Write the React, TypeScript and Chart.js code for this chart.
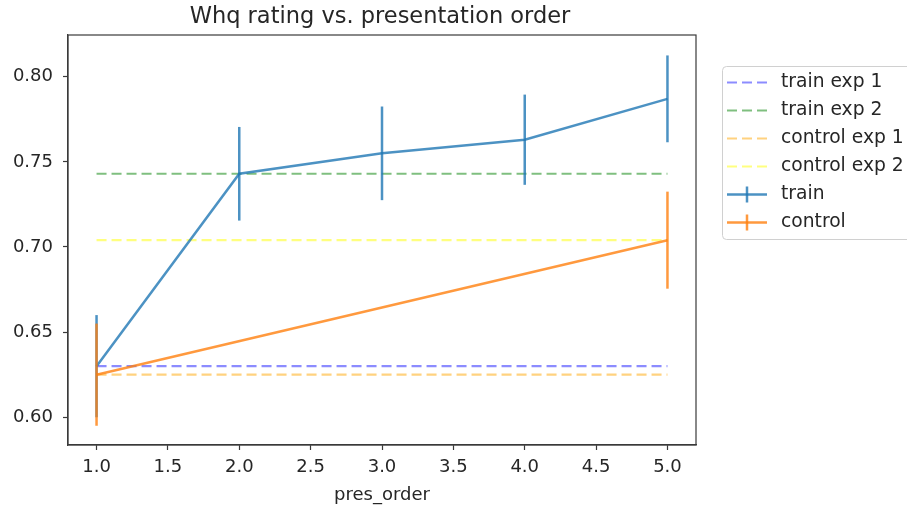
import React, { useEffect, useRef } from "react";
import { Chart, registerables } from "chart.js";

Chart.register(...registerables);

const presOrder = [1, 2, 3, 4, 5];
const trainMean = [0.630, 0.743, 0.755, 0.763, 0.787];
const trainErr = [0.030, 0.0275, 0.0275, 0.0265, 0.0255];
const controlOrder = [1, 5];
const controlMean = [0.625, 0.704];
const controlErr = [0.030, 0.0285];
const refRange = [1, 5];
const trainExp1 = 0.630;
const trainExp2 = 0.743;
const controlExp1 = 0.625;
const controlExp2 = 0.704;
const xTicks = [1.0, 1.5, 2.0, 2.5, 3.0, 3.5, 4.0, 4.5, 5.0];
const yTicks = [0.60, 0.65, 0.70, 0.75, 0.80];
const legendLabels = ["train exp 1", "train exp 2", "control exp 1", "control exp 2", "train", "control"];

const FONT = '"DejaVu Sans", sans-serif';
const TEXT = "#262626";
const AXIS = "#3a3a3a";

const C_TRAIN = "rgba(31,119,180,0.8)";
const C_CONTROL = "rgba(255,127,14,0.8)";
const C_TE1 = "rgba(0,0,255,0.45)";
const C_TE2 = "rgba(0,128,0,0.5)";
const C_CE1 = "rgba(255,165,0,0.5)";
const C_CE2 = "rgba(255,255,0,0.5)";

const hline = (v: number) => refRange.map((x) => ({ x, y: v }));

export default function App() {
  const ref = useRef<HTMLCanvasElement | null>(null);
  useEffect(() => {
    if (!ref.current) return;
    const errPlugin = {
      id: "errbars",
      afterDatasetDraw(chart: any, args: any) {
        const ds = chart.data.datasets[args.index];
        if (!ds.errors) return;
        const ctx = chart.ctx;
        const xs = chart.scales.x;
        const ys = chart.scales.y;
        ctx.save();
        ctx.strokeStyle = ds.borderColor;
        ctx.lineWidth = 2.5;
        ds.data.forEach((p: any, i: number) => {
          const px = xs.getPixelForValue(p.x);
          ctx.beginPath();
          ctx.moveTo(px, ys.getPixelForValue(p.y + ds.errors[i]));
          ctx.lineTo(px, ys.getPixelForValue(p.y - ds.errors[i]));
          ctx.stroke();
        });
        ctx.restore();
      },
    };
    const decoPlugin = {
      id: "deco",
      afterDraw(chart: any) {
        const ctx = chart.ctx;
        const a = chart.chartArea;
        ctx.save();
        // frame
        ctx.strokeStyle = AXIS;
        ctx.lineWidth = 1.2;
        ctx.strokeRect(a.left, a.top, a.right - a.left, a.bottom - a.top);
        // title
        ctx.fillStyle = TEXT;
        ctx.font = `22.5px ${FONT}`;
        ctx.textAlign = "center";
        ctx.textBaseline = "middle";
        ctx.fillText("Whq rating vs. presentation order", 380, 17);
        // legend
        const lx = 722, ly = 66, lw = 200, lh = 173;
        ctx.beginPath();
        ctx.roundRect(lx + 0.5, ly + 0.5, lw, lh, 4);
        ctx.fillStyle = "rgba(255,255,255,0.8)";
        ctx.fill();
        ctx.strokeStyle = "#d0d0d0";
        ctx.lineWidth = 1;
        ctx.stroke();
        const dss = chart.data.datasets;
        ctx.font = `18.7px ${FONT}`;
        ctx.textAlign = "left";
        legendLabels.forEach((lab, i) => {
          const ds = dss.find((d: any) => d.label === lab);
          const y = 82.5 + i * 28;
          ctx.strokeStyle = ds.borderColor;
          ctx.lineWidth = ds.borderWidth;
          ctx.setLineDash(ds.borderDash || []);
          ctx.beginPath();
          ctx.moveTo(727, y);
          ctx.lineTo(767, y);
          ctx.stroke();
          ctx.setLineDash([]);
          if (ds.errors) {
            ctx.beginPath();
            ctx.moveTo(747, y - 8);
            ctx.lineTo(747, y + 8);
            ctx.stroke();
          }
          ctx.fillStyle = TEXT;
          ctx.fillText(lab, 781, y);
        });
        ctx.restore();
      },
    };
    const chart = new Chart(ref.current, {
      type: "line",
      data: {
        datasets: [
          { label: "train exp 1", data: hline(trainExp1), borderColor: C_TE1, borderWidth: 2.2, borderDash: [10, 5], order: 10 },
          { label: "train exp 2", data: hline(trainExp2), borderColor: C_TE2, borderWidth: 2.2, borderDash: [10, 5], order: 10 },
          { label: "control exp 1", data: hline(controlExp1), borderColor: C_CE1, borderWidth: 2.2, borderDash: [10, 5], order: 10 },
          { label: "control exp 2", data: hline(controlExp2), borderColor: C_CE2, borderWidth: 2.2, borderDash: [10, 5], order: 10 },
          { label: "train", data: presOrder.map((x, i) => ({ x, y: trainMean[i] })), errors: trainErr, borderColor: C_TRAIN, borderWidth: 2.5, order: 2 } as any,
          { label: "control", data: controlOrder.map((x, i) => ({ x, y: controlMean[i] })), errors: controlErr, borderColor: C_CONTROL, borderWidth: 2.5, order: 1 } as any,
        ],
      },
      options: {
        responsive: false,
        animation: false,
        events: [],
        layout: { padding: { top: 35, right: 211, left: 0, bottom: 0 } },
        elements: { point: { radius: 0 }, line: { tension: 0, fill: false } },
        plugins: { legend: { display: false }, tooltip: { enabled: false }, title: { display: false } },
        scales: {
          x: {
            type: "linear",
            min: 0.8,
            max: 5.2,
            afterBuildTicks: (s: any) => { s.ticks = xTicks.map((v) => ({ value: v })); },
            afterFit: (s: any) => { s.height = 65; },
            grid: { display: true, drawOnChartArea: false, drawTicks: true, tickLength: 5, tickColor: AXIS, tickWidth: 1.2 },
            border: { display: true, color: AXIS, width: 1.2 },
            ticks: { color: TEXT, font: { family: FONT, size: 18 }, padding: 7, maxRotation: 0, autoSkip: false, callback: (v: any) => Number(v).toFixed(1) },
            title: { display: true, text: "pres_order", color: TEXT, font: { family: FONT, size: 18 }, padding: { top: 0, bottom: 4 } },
          },
          y: {
            type: "linear",
            min: 0.5837,
            max: 0.8245,
            afterBuildTicks: (s: any) => { s.ticks = yTicks.map((v) => ({ value: v })); },
            afterFit: (s: any) => { s.width = 68; },
            grid: { display: true, drawOnChartArea: false, drawTicks: true, tickLength: 5, tickColor: AXIS, tickWidth: 1.2 },
            border: { display: true, color: AXIS, width: 1.2 },
            ticks: { color: TEXT, font: { family: FONT, size: 18 }, padding: 10, autoSkip: false, callback: (v: any) => Number(v).toFixed(2) },
          },
        },
      } as any,
      plugins: [errPlugin, decoPlugin],
    });
    return () => chart.destroy();
  }, []);
  return (
    <div style={{ position: "absolute", left: 0, top: 0, width: 907, height: 510, background: "#fff" }}>
      <canvas ref={ref} width={907} height={510} />
    </div>
  );
}
